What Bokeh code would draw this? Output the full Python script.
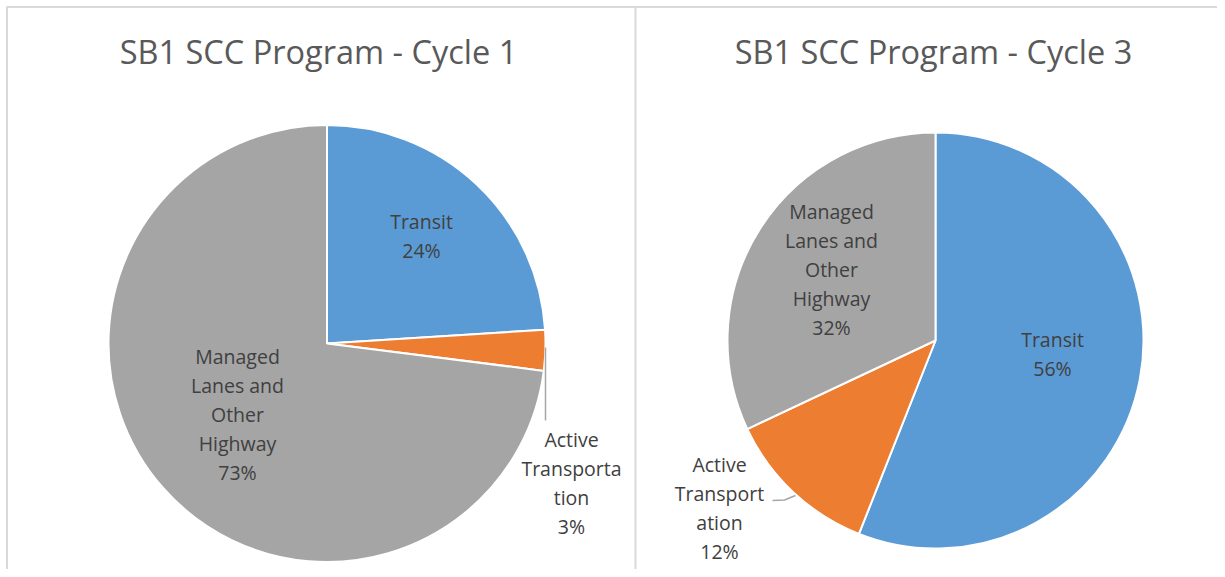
import math
from bokeh.plotting import figure
from bokeh.models import Range1d
from bokeh.core.properties import value
from bokeh.embed import file_html
from bokeh.resources import INLINE

# ---- data ----
titles = ["SB1 SCC Program - Cycle 1", "SB1 SCC Program - Cycle 3"]
categories = ["Transit", "Active Transportation", "Managed Lanes and Other Highway"]
cycle1_values = [24, 3, 73]
cycle3_values = [56, 12, 32]
colors = ["#5B9BD5", "#ED7D31", "#A5A5A5"]
cycle1_labels = [["Transit", "24%"], ["Active", "Transporta", "tion", "3%"],
                 ["Managed", "Lanes and", "Other", "Highway", "73%"]]
cycle3_labels = [["Transit", "56%"], ["Active", "Transport", "ation", "12%"],
                 ["Managed", "Lanes and", "Other", "Highway", "32%"]]

W, H = 1217, 569


def Y(sy):
    return H - sy


p = figure(width=W, height=H, output_backend="svg", toolbar_location=None,
           x_range=Range1d(0, W), y_range=Range1d(0, H), min_border=0,
           background_fill_color="white", border_fill_color="white")
p.axis.visible = False
p.grid.visible = False
p.outline_line_color = None

# panel borders
border = "#D9D9D9"
p.line([6.5, 6.5], [Y(6), Y(600)], line_color=border, line_width=2)
p.line([6, 1225], [Y(6.5), Y(6.5)], line_color=border, line_width=2)
p.line([635, 635], [Y(6), Y(600)], line_color=border, line_width=2)


def draw_pie(cx, cy, r, vals, labels, label_pos):
    total = float(sum(vals))
    cum = 0.0
    for v, c in zip(vals, colors):
        a0 = math.pi / 2 - 2 * math.pi * cum / total
        cum += v
        a1 = math.pi / 2 - 2 * math.pi * cum / total
        p.wedge(x=cx, y=Y(cy), radius=r, start_angle=a0, end_angle=a1,
                direction="clock", fill_color=c, line_color="white", line_width=2)
    for lines, (lx, ly) in zip(labels, label_pos):
        n = len(lines)
        ys = [Y(ly + (i - (n - 1) / 2) * 29) for i in range(n)]
        p.text(x=[lx] * n, y=ys, text=lines, text_align="center",
               text_baseline="middle", text_color="#404040",
               text_font=value("Open Sans"), text_font_size="19.5px")


draw_pie(326.5, 343, 218.5, cycle1_values, cycle1_labels,
         [(421, 235), (571, 482.5), (237, 414)])
draw_pie(935, 340, 208, cycle3_values, cycle3_labels,
         [(1052, 353.5), (719, 507.5), (831, 269)])

# leader lines
p.line([545, 545], [Y(347), Y(420)], line_color="#A6A6A6", line_width=1.5)
p.line([772, 784, 795], [Y(500), Y(499.5), Y(495)], line_color="#A6A6A6", line_width=1.5)

# titles
for t, tx in zip(titles, [318, 933]):
    p.text(x=[tx], y=[Y(51)], text=[t], text_align="center", text_baseline="middle",
           text_color="#595959", text_font=value("Open Sans"), text_font_size="32.5px")

open("out.html", "w").write(file_html(p, INLINE))
